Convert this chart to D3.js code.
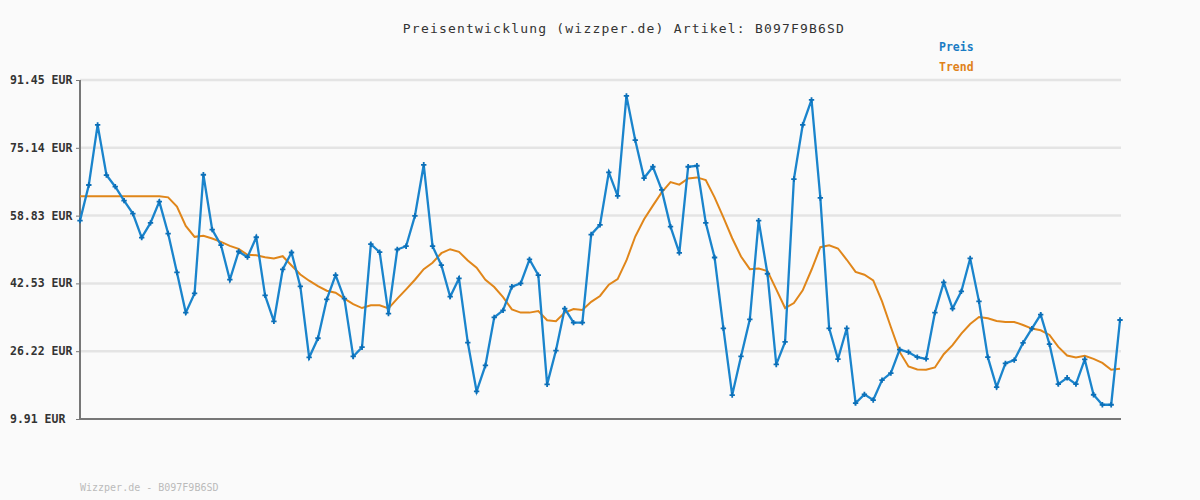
<!DOCTYPE html>
<html><head><meta charset="utf-8">
<script src="https://cdn.jsdelivr.net/npm/d3@7"></script>
<style>body{margin:0;background:#fafafa;}svg{display:block;}</style>
</head><body>
<script>
const titleText = "Preisentwicklung (wizzper.de) Artikel: B097F9B6SD";
const footerText = "Wizzper.de - B097F9B6SD";
const legendLabels = ["Preis", "Trend"];
const tickValues = [9.91, 26.22, 42.53, 58.83, 75.14, 91.45];
const tickLabels = ["9.91 EUR", "26.22 EUR", "42.53 EUR", "58.83 EUR", "75.14 EUR", "91.45 EUR"];
const preis = [57.63,66.19,80.66,68.59,65.79,62.43,59.31,53.56,57.08,62.19,
54.52,45.16,35.50,40.13,68.66,55.47,51.71,43.41,50.20,48.83,
53.63,39.65,33.41,45.88,49.96,41.80,24.71,29.33,38.69,44.52,
38.85,24.95,27.18,51.95,50.03,35.26,50.68,51.47,58.76,71.06,
51.47,46.91,39.33,43.72,28.30,16.55,22.79,34.37,36.05,41.73,
42.52,48.28,44.52,18.23,26.38,36.46,33.10,33.10,54.28,56.60,
69.22,63.56,87.61,76.98,67.87,70.58,65.00,56.19,49.88,70.58,
70.82,57.08,48.76,31.73,15.67,24.95,33.89,57.63,44.85,23.03,
28.45,67.63,80.66,86.65,63.08,31.73,24.30,31.73,13.75,15.83,
14.47,19.26,20.94,26.62,25.98,24.78,24.38,35.50,42.76,36.46,
40.61,48.52,38.21,24.78,17.58,23.27,24.06,28.21,31.66,35.02,
27.90,18.30,19.82,18.30,24.23,15.74,13.34,13.34,33.72];
const trend = [63.46,63.46,63.46,63.46,63.46,63.46,63.46,63.46,63.46,63.46,
63.22,60.99,56.36,53.72,53.96,53.32,52.52,51.56,50.84,49.41,
49.31,48.83,48.52,49.07,46.84,44.68,43.17,41.88,40.77,40.30,
38.85,37.56,36.60,37.25,37.25,36.53,38.85,41.09,43.41,45.96,
47.49,49.79,50.75,50.13,48.04,46.29,43.41,41.64,39.24,36.29,
35.50,35.50,35.88,33.65,33.41,35.50,36.37,36.13,38.10,39.50,
42.21,43.57,48.04,53.80,57.95,61.23,64.42,66.91,66.27,67.78,
68.02,67.39,63.22,58.43,53.39,49.00,45.96,46.12,45.48,41.09,
36.60,37.80,40.85,45.81,51.23,51.71,50.92,48.21,45.30,44.61,
43.24,38.21,32.05,26.05,22.55,21.83,21.75,22.31,25.50,27.66,
30.46,32.77,34.44,34.13,33.49,33.25,33.25,32.53,31.66,31.25,
30.13,27.25,25.19,24.71,25.09,24.38,23.41,21.75,21.99];

const W = 1200, H = 500;
const m = {left: 80, right: 80, top: 80, bottom: 81};
const svg = d3.select("body").append("svg").attr("width", W).attr("height", H)
  .style("background", "#fafafa");

const x = d3.scaleLinear().domain([0, preis.length - 1]).range([m.left, W - m.right]);
const y = d3.scaleLinear().domain([tickValues[0], tickValues[tickValues.length - 1]]).range([H - m.bottom, m.top]);

svg.append("g").selectAll("line").data(tickValues.slice(1)).join("line")
  .attr("x1", m.left).attr("x2", W - m.right + 1)
  .attr("y1", d => y(d)).attr("y2", d => y(d))
  .attr("stroke", "#e4e4e4").attr("stroke-width", 2.5);

const yAxis = d3.axisLeft(y).tickValues(tickValues).tickSize(4).tickFormat("");
const ga = svg.append("g").attr("transform", `translate(${m.left},0)`).call(yAxis);
ga.select(".domain").remove();
ga.selectAll(".tick line").attr("stroke", "#777").attr("stroke-width", 1);

svg.append("line").attr("x1", m.left).attr("x2", m.left).attr("y1", m.top).attr("y2", H - m.bottom)
  .attr("stroke", "#777").attr("stroke-width", 2);
svg.append("line").attr("x1", m.left - 1).attr("x2", W - m.right + 1).attr("y1", H - m.bottom).attr("y2", H - m.bottom)
  .attr("stroke", "#777").attr("stroke-width", 2);

svg.append("g").selectAll("text").data(tickValues).join("text")
  .attr("x", 10).attr("y", d => y(d) + 4)
  .text((d, i) => tickLabels[i])
  .attr("font-family", "DejaVu Sans Mono").attr("font-weight", "bold")
  .attr("font-size", "11.5px").attr("fill", "#333");

const line = d3.line().x((d, i) => x(i)).y(d => y(d));
svg.append("path").datum(trend).attr("d", line).attr("fill", "none")
  .attr("stroke", "#e0861a").attr("stroke-width", 2);
svg.append("path").datum(preis).attr("d", line).attr("fill", "none")
  .attr("stroke", "#1a84cc").attr("stroke-width", 2.3);
svg.append("g").selectAll("path").data(preis).join("path")
  .attr("transform", (d, i) => `translate(${x(i)},${y(d)})`)
  .attr("d", d3.symbol(d3.symbolCross, 16)())
  .attr("fill", "#0b6fb8");

svg.append("text").attr("x", 624).attr("y", 33).attr("text-anchor", "middle")
  .text(titleText).attr("font-family", "DejaVu Sans Mono").attr("font-size", "13px")
  .attr("letter-spacing", "1.2px").attr("fill", "#333");

const legColors = ["#1a7cc4", "#e0821a"];
svg.append("g").selectAll("text").data(legendLabels).join("text")
  .attr("x", 939).attr("y", (d, i) => 51 + i * 20)
  .text(d => d).attr("font-family", "DejaVu Sans Mono").attr("font-weight", "bold")
  .attr("font-size", "11.5px").attr("fill", (d, i) => legColors[i]);

svg.append("text").attr("x", 80).attr("y", 491).text(footerText)
  .attr("font-family", "DejaVu Sans Mono").attr("font-size", "10px").attr("fill", "#bbb");
</script>
</body></html>
